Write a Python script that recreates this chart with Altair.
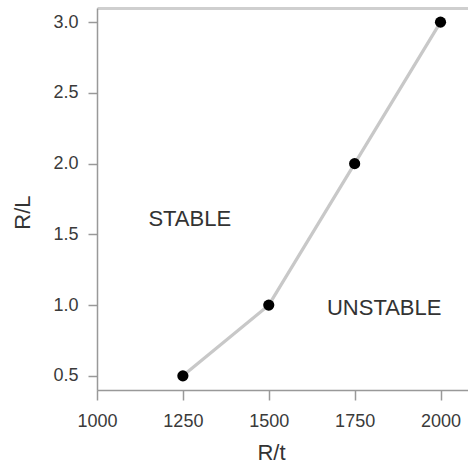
import altair as alt
import pandas as pd

rt = [1250, 1500, 1750, 2000]
rl = [0.5, 1.0, 2.0, 3.0]

region_labels = ["STABLE", "UNSTABLE"]
region_x = [1270, 1836]
region_y = [1.61, 0.98]

x_ticks = [1000, 1250, 1500, 1750, 2000]
y_ticks = [0.5, 1.0, 1.5, 2.0, 2.5, 3.0]

df = pd.DataFrame({"rt": rt, "rl": rl})
lab = pd.DataFrame({"label": region_labels, "x": region_x, "y": region_y})

FONT = "Liberation Sans"
xscale = alt.Scale(domain=[1000, 2080], nice=False, zero=False)
yscale = alt.Scale(domain=[0.4, 3.1], nice=False, zero=False)

xaxis = alt.Axis(values=x_ticks, grid=False, format="d", tickSize=10, labelPadding=12,
                 labelFlush=False,
                 title="R/t", titleX=174, titleY=62, titleBaseline="middle")
yaxis = alt.Axis(values=y_ticks, grid=False, format=".1f", tickSize=9, labelPadding=10,
                 labelFlush=False,
                 title="R/L", titleX=-75, titleY=204, titleAngle=-90,
                 titleAlign="center", titleBaseline="middle")
topaxis = alt.Axis(orient="top", labels=False, ticks=False, grid=False, title=None,
                   domainColor="#cfcfcf", domainWidth=3)

line = alt.Chart(df).mark_line(color="#c8c8c8", strokeWidth=3.2).encode(
    x=alt.X("rt:Q", scale=xscale, axis=xaxis),
    y=alt.Y("rl:Q", scale=yscale, axis=yaxis),
)
pts = alt.Chart(df).mark_point(filled=True, color="black", size=125, opacity=1).encode(
    x=alt.X("rt:Q", scale=xscale, axis=topaxis),
    y=alt.Y("rl:Q", scale=yscale),
)
txt = alt.Chart(lab).mark_text(font=FONT, fontSize=22, color="#333", align="center",
                               baseline="middle").encode(
    x=alt.X("x:Q", scale=xscale, axis=None),
    y=alt.Y("y:Q", scale=yscale),
    text="label:N",
)

chart = alt.layer(line, pts, txt).resolve_axis(x="independent").properties(
    width=371, height=382,
    autosize=alt.AutoSizeParams(type="none"),
    padding={"left": 97, "top": 8, "right": 0, "bottom": 74},
).configure_view(stroke=None).configure(background="white").configure_axis(
    labelFont=FONT, labelFontSize=18, labelColor="#3a3a3a",
    tickColor="#999", tickWidth=1.5, domainColor="#999", domainWidth=1.5,
    titleFont=FONT, titleFontSize=22, titleFontWeight="normal", titleColor="#333",
)

chart.save("out.html", embed_options={"renderer": "svg", "actions": False})
